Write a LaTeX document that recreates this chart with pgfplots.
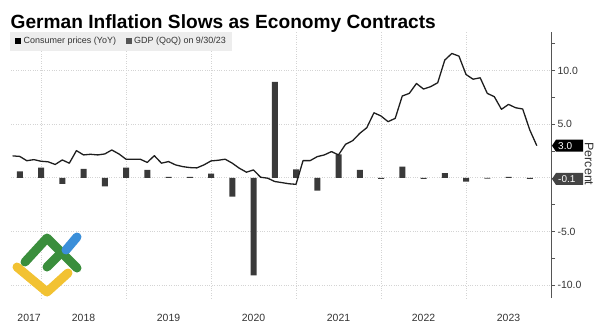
\documentclass[border=0pt]{standalone}
\usepackage{pgfplots}
\pgfplotsset{compat=1.18}
\usepackage{fontspec}
\setmainfont{Liberation Sans}
\definecolor{gridc}{HTML}{D4D4D4}
\definecolor{axisc}{HTML}{555555}
\definecolor{textc}{HTML}{333333}
\definecolor{barc}{HTML}{3A3A3A}
\definecolor{linec}{HTML}{1E1E1E}
\definecolor{legbg}{HTML}{EDEDED}
\definecolor{taggray}{HTML}{444444}
\definecolor{lgreen}{HTML}{3A8E3C}
\definecolor{lblue}{HTML}{3B8FD9}
\definecolor{lyellow}{HTML}{F2C232}

\pgfplotstableread{
t v
2017.75 0.6
2018.00 0.95
2018.25 -0.55
2018.50 0.85
2018.75 -0.8
2019.00 0.95
2019.25 0.75
2019.50 0.1
2019.75 0.1
2020.00 0.4
2020.25 -1.75
2020.50 -9.1
2020.75 8.95
2021.00 0.8
2021.25 -1.2
2021.50 2.2
2021.75 0.75
2022.00 -0.1
2022.25 1.05
2022.50 -0.1
2022.75 0.45
2023.00 -0.35
2023.25 -0.08
2023.50 0.1
2023.75 -0.1
}\gdptable

\pgfplotstableread{
t v
2017.667 2.05
2017.750 2.0
2017.833 1.6
2017.917 1.7
2018.000 1.55
2018.083 1.5
2018.167 1.25
2018.250 1.67
2018.333 1.37
2018.417 2.54
2018.500 2.14
2018.583 2.2
2018.667 2.14
2018.750 2.23
2018.833 2.6
2018.917 2.23
2019.000 1.74
2019.083 1.74
2019.167 1.74
2019.250 1.44
2019.333 2.07
2019.417 1.37
2019.500 1.52
2019.583 1.21
2019.667 1.05
2019.750 0.96
2019.833 0.93
2019.917 1.21
2020.000 1.58
2020.083 1.64
2020.167 1.74
2020.250 1.37
2020.333 0.9
2020.417 0.53
2020.500 0.74
2020.583 0.06
2020.667 -0.03
2020.750 -0.34
2020.833 -0.44
2020.917 -0.55
2021.000 -0.6
2021.083 1.61
2021.167 1.61
2021.250 1.98
2021.333 2.14
2021.417 2.45
2021.500 2.14
2021.583 3.13
2021.667 3.47
2021.750 4.15
2021.833 4.68
2021.917 6.07
2022.000 5.77
2022.083 5.24
2022.167 5.55
2022.250 7.63
2022.333 7.88
2022.417 8.8
2022.500 8.28
2022.583 8.5
2022.667 8.87
2022.750 10.98
2022.833 11.6
2022.917 11.35
2023.000 9.64
2023.083 9.2
2023.167 9.33
2023.250 7.88
2023.333 7.57
2023.417 6.39
2023.500 6.85
2023.583 6.54
2023.667 6.42
2023.750 4.47
2023.833 3.0
}\cpitable

\begin{document}
\begin{tikzpicture}[x=1bp,y=1bp]
\useasboundingbox (0,0) rectangle (600,324);
\begin{axis}[
  at={(11bp,26bp)}, anchor=south west,
  scale only axis, width=540bp, height=266bp,
  xmin=2017.647, xmax=2024, ymin=-11.2, ymax=13.6,
  axis line style={draw=none},
  ytick pos=right, yticklabel pos=right,
  ytick={-10,-5,0,5,10},
  yticklabels={-10.0,-5.0,,5.0,10.0},
  minor ytick={-7.5,-2.5,2.5,7.5,12.5},
  xtick={2017.86,2018.5,2019.5,2020.5,2021.5,2022.5,2023.5},
  xticklabels={2017,2018,2019,2020,2021,2022,2023},
  minor xtick={2018,2019,2020,2021,2022,2023},
  ymajorgrids, xminorgrids,
  major grid style={gridc, dotted, line width=0.8bp},
  minor grid style={gridc, dotted, line width=0.8bp},
  tick align=outside,
  major tick length=4bp, minor tick length=4bp,
  ytick style={axisc, line width=0.7bp},
  minor y tick style={axisc, line width=0.7bp},
  xtick style={draw=none},
  minor x tick style={draw=none},
  yticklabel style={font=\fontsize{10.5}{12}\selectfont, text=textc, xshift=-1bp},
  xticklabel style={font=\fontsize{10.5}{12}\selectfont, text=textc, yshift=-9bp},
  clip=false,
]
\addplot[ybar, bar width=6bp, bar shift=0pt, fill=barc, draw=none] table[x=t,y=v] {\gdptable};
\addplot[linec, line width=1.3bp, mark=none, line join=round] table[x=t,y=v] {\cpitable};
\draw[axisc, line width=0.9bp] (rel axis cs:1,0) -- (rel axis cs:1,1);
\coordinate (tagA) at (axis cs:2024,3.0);
\coordinate (tagB) at (axis cs:2024,-0.1);
\end{axis}
% value tags
\fill[black, shift={(tagA)}] (1,0) -- (5,6) -- (32,6) -- (32,-6) -- (5,-6) -- cycle;
\node[white, anchor=west, inner sep=0, font=\fontsize{10}{11}\selectfont] at ([xshift=7bp]tagA) {3.0};
\fill[taggray, shift={(tagB)}] (1,0) -- (5,6) -- (32,6) -- (32,-6) -- (5,-6) -- cycle;
\node[white, anchor=west, inner sep=0, font=\fontsize{10}{11}\selectfont] at ([xshift=7bp]tagB) {-0.1};
% y label
\node[rotate=-90, text=textc, font=\fontsize{12.5}{14}\selectfont, inner sep=0] at (589,160) {Percent};
% title
\node[anchor=base west, inner sep=0, text=black, font=\fontsize{19.2}{22}\selectfont\bfseries] at (10.5,295.3) {German Inflation Slows as Economy Contracts};
% legend
\fill[legbg] (10,273) rectangle (232,292);
\fill[black] (15,280) rectangle (21,286);
\node[anchor=west, inner sep=0, text=textc, font=\fontsize{9}{10}\selectfont] at (23.5,282.8) {Consumer prices (YoY)};
\fill[axisc] (126,280) rectangle (132,286);
\node[anchor=west, inner sep=0, text=textc, font=\fontsize{9}{10}\selectfont] at (134,282.8) {GDP (QoQ) on 9/30/23};
% logo
\draw[lyellow, line width=9bp, line cap=round, line join=round] (17,57) -- (47,32) -- (68,51);
\draw[lgreen, line width=9bp, line cap=round, line join=round] (25,62) -- (47,86) -- (77,56);
\draw[lgreen, line width=9bp, line cap=round] (47,57) -- (61,71);
\draw[lblue, line width=9bp, line cap=round] (66,74) -- (77,87);
\end{tikzpicture}
\end{document}
